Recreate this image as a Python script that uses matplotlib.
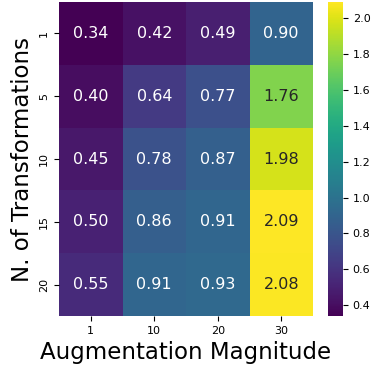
import numpy as np
import matplotlib
matplotlib.use("Agg")
import matplotlib.pyplot as plt
import seaborn as sns

# Data
magnitudes = ["1", "10", "20", "30"]
n_transforms = ["1", "5", "10", "15", "20"]
values = np.array([
    [0.34, 0.42, 0.49, 0.90],
    [0.40, 0.64, 0.77, 1.76],
    [0.45, 0.78, 0.87, 1.98],
    [0.50, 0.86, 0.91, 2.09],
    [0.55, 0.91, 0.93, 2.08],
])

W, H = 373, 366
fig = plt.figure(figsize=(W / 100, H / 100), dpi=100)
ax = fig.add_axes([59 / W, 1 - 316 / H, (313 - 59) / W, (316 - 2) / H])
cax = fig.add_axes([328 / W, 1 - 316 / H, (343 - 328) / W, (316 - 2) / H])

sns.heatmap(values, ax=ax, cbar_ax=cax, cmap="viridis", annot=True, fmt=".2f",
            annot_kws={"size": 11.5},
            xticklabels=magnitudes, yticklabels=n_transforms)

ax.set_xlabel("Augmentation Magnitude", fontsize=16.5)
ax.set_ylabel("N. of Transformations", fontsize=16.5)
ax.tick_params(axis="both", labelsize=8)
cax.tick_params(labelsize=8)

fig.savefig("out.png", dpi=100)
